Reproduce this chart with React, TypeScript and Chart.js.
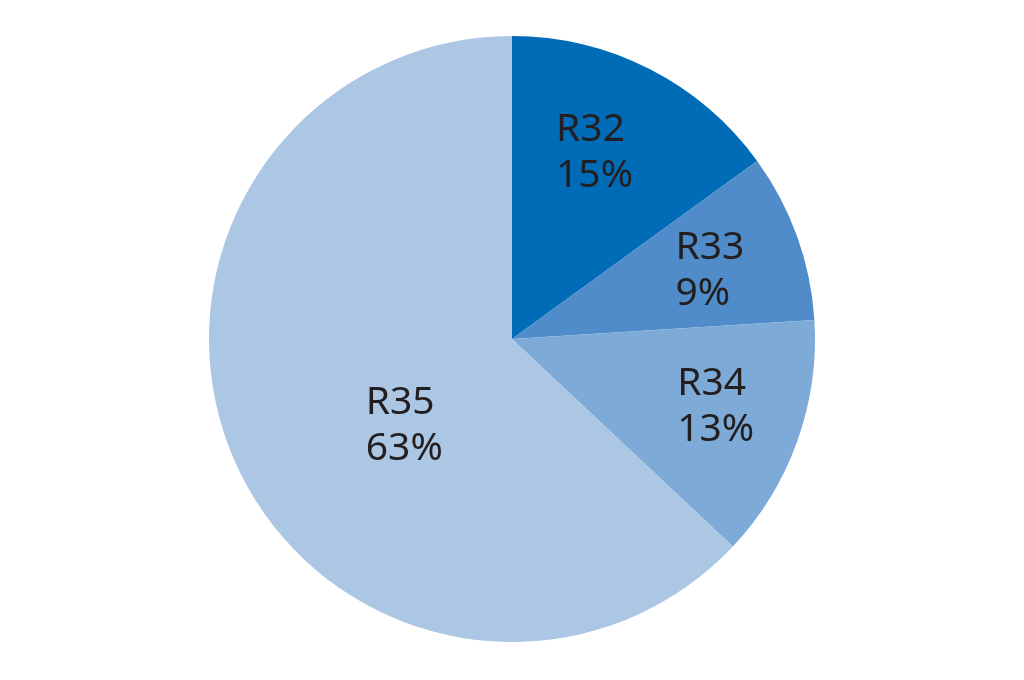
import React, { useEffect, useRef } from "react";
import { Chart, registerables } from "chart.js";

Chart.register(...registerables);

const categories = ["R32", "R33", "R34", "R35"];
const shares = [15, 9, 13, 63];
const sliceColors = ["#006cb7", "#4f8cc9", "#7eaad7", "#abc7e4"];
// label placement: [radius fraction, angle shift in degrees]
const labelPlacement: [number, number][] = [
  [0.67, -3],
  [0.69, 1],
  [0.71, -1],
  [0.46, -16],
];

const labelPlugin = {
  id: "sliceLabels",
  afterDatasetsDraw(chart: any) {
    const ctx = chart.ctx;
    const meta = chart.getDatasetMeta(0);
    ctx.save();
    ctx.font = '39px "Noto Sans"';
    ctx.fillStyle = "#231f20";
    ctx.textBaseline = "alphabetic";
    ctx.textAlign = "left";
    meta.data.forEach((arc: any, i: number) => {
      const { x, y, startAngle, endAngle, outerRadius } = arc.getProps(
        ["x", "y", "startAngle", "endAngle", "outerRadius"],
        true
      );
      const [rf, shift] = labelPlacement[i];
      const a = (startAngle + endAngle) / 2 + (shift * Math.PI) / 180;
      const cx = x + Math.cos(a) * outerRadius * rf;
      const cy = y + Math.sin(a) * outerRadius * rf;
      const l1 = categories[i];
      const l2 = shares[i] + "%";
      const w = Math.max(ctx.measureText(l1).width, ctx.measureText(l2).width);
      const left = cx - w / 2;
      const lh = 46;
      ctx.fillText(l1, left, cy - 13);
      ctx.fillText(l2, left, cy - 13 + lh);
    });
    ctx.restore();
  },
};

export default function App() {
  const ref = useRef<HTMLCanvasElement>(null);
  useEffect(() => {
    document.body.style.margin = "0";
    const chart = new Chart(ref.current!, {
      type: "pie",
      data: {
        labels: categories,
        datasets: [
          {
            data: shares,
            backgroundColor: sliceColors,
            borderWidth: 0,
          },
        ],
      },
      options: {
        animation: false,
        responsive: false,
        maintainAspectRatio: false,
        layout: { padding: { top: 36, bottom: 38, left: 0, right: 0 } },
        plugins: {
          legend: { display: false },
          tooltip: { enabled: false },
        },
      },
      plugins: [labelPlugin],
    });
    return () => chart.destroy();
  }, []);
  return (
    <div style={{ width: 1024, height: 680, background: "#fff" }}>
      <canvas ref={ref} width={1024} height={680} style={{ display: "block" }} />
    </div>
  );
}
